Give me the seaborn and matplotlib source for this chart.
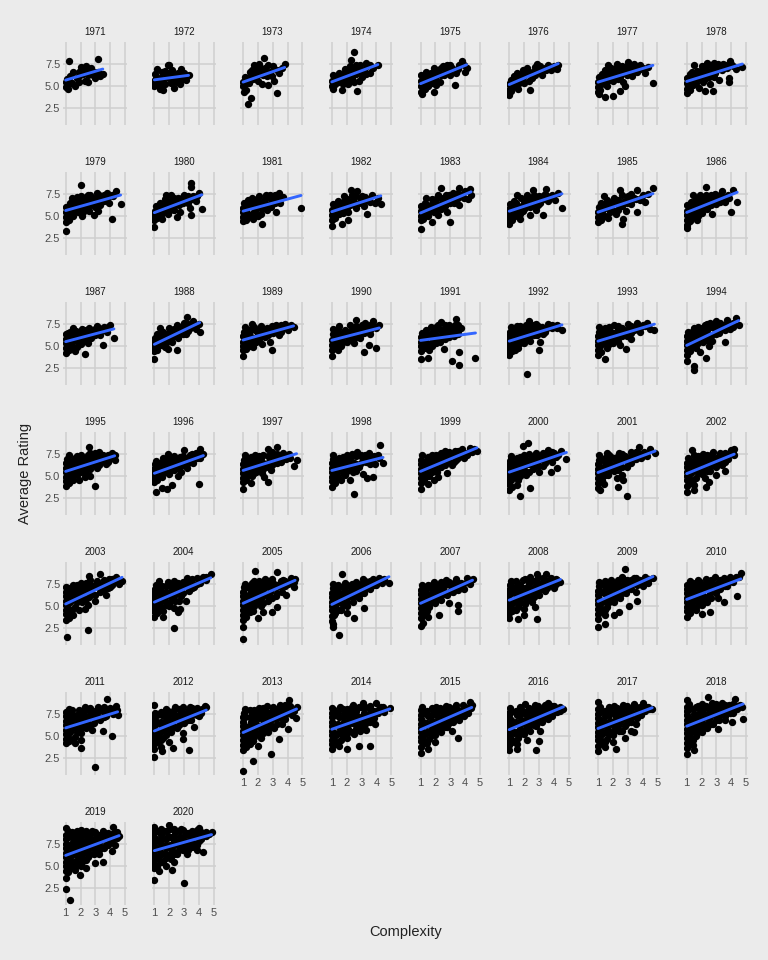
import matplotlib
matplotlib.use("Agg")
import matplotlib.pyplot as plt
import pandas as pd
import seaborn as sns

# average rating vs complexity, one panel per publication year
years = list(range(1971, 2021))

# scattered games (complexity, rating)
pts_1971 = [(1.0,5.4),(1.05,4.9),(1.15,4.7),(1.1,5.8),(1.3,6.1),(1.4,5.3),(1.6,5.0),(1.75,5.9),(1.9,6.6),(2.0,7.1),(2.1,6.9),(2.2,6.3),(2.3,5.6),(2.5,5.5),(2.6,6.8),(2.7,7.0),(2.85,6.2),(3.0,5.9),(3.2,6.6),(3.5,6.3),(1.25,7.75),(3.2,8.0),(1.5,6.6),(2.4,7.2)]
pts_1972 = [(1.0,5.0),(1.0,5.6),(1.05,6.3),(1.2,6.9),(1.3,5.2),(1.4,4.7),(1.6,4.6),(1.6,5.6),(1.8,6.2),(1.9,7.3),(2.0,7.4),(2.2,6.8),(2.1,5.3),(2.3,4.8),(2.5,5.4),(2.6,6.5),(2.8,6.9),(2.9,5.8),(3.1,5.7),(3.3,6.2),(2.4,6.0),(1.5,6.6)]
pts_1973 = [(1.0,5.0),(1.0,5.5),(1.05,4.3),(1.1,6.0),(1.3,3.0),(1.5,3.7),(1.2,4.6),(1.4,5.3),(1.5,6.3),(1.6,6.8),(1.8,7.0),(1.9,6.1),(2.0,5.6),(2.1,7.2),(2.2,6.6),(2.3,5.2),(2.4,8.1),(2.5,7.0),(2.6,6.1),(2.7,5.1),(2.8,6.6),(3.0,7.2),(3.1,5.6),(3.25,4.2),(3.4,6.4),(3.6,7.0),(3.8,7.5),(2.0,6.6),(1.7,5.8)]
pts_1974 = [(1.0,5.0),(1.0,5.6),(1.1,4.7),(1.1,6.2),(1.3,5.3),(1.5,6.5),(1.7,4.6),(1.8,5.8),(1.9,6.9),(2.0,6.2),(2.2,7.2),(2.3,7.9),(2.5,8.8),(2.4,6.5),(2.5,5.5),(2.7,4.4),(2.7,6.9),(2.9,7.3),(3.0,6.0),(3.2,6.8),(3.4,7.2),(3.6,6.5),(3.8,7.0),(4.1,7.3),(2.1,5.2),(1.4,5.9),(2.8,5.6)]
pts_1975 = [(1.0,4.3),(1.0,5.0),(1.0,5.6),(1.05,6.2),(1.1,4.1),(1.2,5.3),(1.3,6.0),(1.4,6.6),(1.5,5.0),(1.6,5.7),(1.7,6.4),(1.9,4.3),(1.9,7.0),(2.0,6.0),(2.2,6.8),(2.3,5.4),(2.5,7.2),(2.6,6.2),(2.8,7.4),(2.9,6.6),(3.1,7.0),(3.3,5.1),(3.4,6.4),(3.6,7.3),(3.8,7.8),(4.0,6.6),(4.1,7.0),(1.3,4.7),(2.1,5.6)]
pts_1976 = [(1.0,4.0),(1.0,4.6),(1.0,5.2),(1.1,5.7),(1.2,4.9),(1.3,6.1),(1.4,5.4),(1.5,6.5),(1.6,4.7),(1.8,5.8),(1.9,6.8),(2.1,6.3),(2.2,7.0),(2.4,4.6),(2.5,5.9),(2.6,6.6),(2.9,7.5),(3.0,6.9),(3.2,6.2),(3.4,7.0),(3.6,7.4),(3.8,6.8),(4.0,7.2),(4.3,7.3),(4.2,6.9),(2.0,5.3)]
pts_1977 = [(1.0,4.3),(1.0,4.9),(1.0,5.5),(1.05,6.0),(1.1,4.1),(1.2,5.2),(1.3,6.3),(1.4,5.7),(1.5,3.8),(1.5,6.8),(1.6,5.0),(1.8,6.2),(1.9,7.0),(2.0,3.9),(2.0,5.6),(2.2,6.6),(2.3,7.5),(2.5,4.4),(2.5,6.0),(2.6,7.2),(2.7,5.4),(2.9,6.7),(3.0,7.7),(3.2,7.0),(3.3,6.1),(3.4,7.5),(3.6,6.6),(3.8,7.3),(4.0,7.0),(4.2,6.5),(4.4,7.1),(4.7,5.3),(2.8,5.0),(1.7,7.3)]
pts_1978 = [(1.0,4.2),(1.0,4.7),(1.0,5.3),(1.05,5.9),(1.2,4.5),(1.2,6.3),(1.4,5.1),(1.5,7.4),(1.6,5.8),(1.7,6.7),(1.8,4.8),(1.9,6.2),(2.0,7.2),(2.1,5.5),(2.25,4.4),(2.3,6.8),(2.4,7.6),(2.5,6.0),(2.6,5.2),(2.75,4.4),(2.8,7.0),(2.9,6.4),(3.1,7.5),(3.2,5.7),(3.4,6.8),(3.6,7.3),(3.85,5.4),(3.85,5.9),(3.9,7.8),(4.1,7.2),(4.3,6.9),(4.75,7.1),(2.2,5.8)]
pts_1979 = [(1.0,3.3),(1.0,4.3),(1.0,4.9),(1.0,5.5),(1.05,6.0),(1.2,4.6),(1.2,5.3),(1.3,6.4),(1.5,5.0),(1.5,5.9),(1.6,6.8),(1.8,5.5),(1.9,6.3),(2.0,7.2),(2.05,8.5),(2.1,5.0),(2.3,6.0),(2.4,6.7),(2.5,7.4),(2.6,5.6),(2.8,6.4),(2.9,5.1),(3.0,7.0),(3.1,7.6),(3.3,6.2),(3.4,6.8),(3.6,7.3),(3.8,7.6),(3.9,6.5),(4.1,4.7),(4.2,7.2),(4.4,7.8),(4.7,6.3),(2.2,5.4),(1.4,7.0),(3.2,5.6)]
pts_1980 = [(1.0,3.8),(1.0,4.6),(1.0,5.1),(1.05,5.6),(1.1,6.1),(1.2,4.8),(1.3,5.4),(1.4,6.5),(1.5,4.7),(1.6,5.8),(1.7,6.9),(1.9,5.2),(2.0,6.2),(2.1,7.3),(2.3,5.7),(2.4,6.6),(2.6,7.0),(2.7,5.5),(2.9,6.4),(3.0,7.4),(3.2,6.8),(3.4,5.9),(3.45,8.7),(3.5,8.3),(3.5,5.1),(3.6,7.2),(3.8,6.7),(4.0,7.6),(4.2,5.8),(1.8,7.4),(2.5,4.9)]
pts_1981 = [(1.0,4.4),(1.0,4.9),(1.0,5.4),(1.0,5.9),(1.05,6.4),(1.2,4.6),(1.2,5.6),(1.3,6.8),(1.4,5.1),(1.5,6.1),(1.6,7.0),(1.7,4.7),(1.8,5.6),(1.9,6.6),(2.1,7.2),(2.2,5.2),(2.25,4.1),(2.3,6.2),(2.5,6.9),(2.6,5.7),(2.8,7.4),(2.9,6.3),(3.1,6.9),(3.2,5.5),(3.4,7.6),(3.5,6.4),(3.7,7.1),(4.9,5.9),(2.0,5.0)]
pts_1982 = [(1.0,3.9),(1.0,4.6),(1.0,5.1),(1.0,5.7),(1.05,6.3),(1.2,4.8),(1.3,5.5),(1.4,6.7),(1.6,5.9),(1.7,4.1),(1.8,7.2),(1.9,6.4),(2.1,4.6),(2.1,5.5),(2.3,7.9),(2.4,6.8),(2.6,5.9),(2.7,7.8),(2.8,6.5),(3.0,7.2),(3.2,6.1),(3.35,5.2),(3.5,6.9),(3.7,7.3),(3.9,6.5),(4.1,7.0),(4.3,6.3),(1.5,5.2),(2.2,6.2)]
pts_1983 = [(1.0,3.5),(1.0,4.5),(1.0,5.0),(1.0,5.6),(1.05,6.1),(1.15,4.7),(1.2,5.4),(1.3,6.5),(1.5,5.0),(1.6,5.9),(1.8,4.3),(1.8,6.9),(1.9,5.4),(2.0,6.4),(2.2,7.3),(2.4,8.1),(2.4,5.8),(2.5,6.8),(2.7,7.4),(2.8,5.5),(3.0,4.3),(3.0,6.5),(3.2,7.6),(3.4,6.9),(3.6,8.1),(3.6,6.2),(3.8,7.3),(4.0,7.8),(4.2,6.9),(4.3,8.0),(4.4,7.3),(2.2,5.1),(1.4,7.0)]
pts_1984 = [(1.0,4.1),(1.0,4.7),(1.0,5.2),(1.0,5.8),(1.05,6.3),(1.2,4.5),(1.2,5.5),(1.3,6.7),(1.4,5.0),(1.6,6.1),(1.7,4.7),(1.8,7.0),(1.9,5.6),(2.0,6.5),(2.2,7.3),(2.4,5.1),(2.4,6.0),(2.6,7.9),(2.6,6.8),(2.8,5.7),(3.0,7.2),(3.1,6.4),(3.3,5.1),(3.4,7.5),(3.5,8.0),(3.6,6.7),(3.8,7.1),(4.1,6.8),(4.3,7.6),(4.55,5.9),(1.5,7.3)]
pts_1985 = [(1.0,4.3),(1.0,4.9),(1.0,5.5),(1.05,6.0),(1.2,4.6),(1.2,6.5),(1.3,5.3),(1.5,5.9),(1.6,6.8),(1.7,4.8),(1.8,5.5),(1.9,6.4),(2.1,7.0),(2.2,5.2),(2.4,6.1),(2.5,7.9),(2.6,4.1),(2.7,4.7),(2.7,6.6),(2.9,5.6),(3.0,7.2),(3.2,6.3),(3.4,7.0),(3.6,5.5),(3.6,7.9),(3.8,6.8),(4.0,7.3),(4.2,6.6),(4.4,7.5),(4.7,8.1),(1.4,7.2)]
pts_1986 = [(1.0,3.6),(1.0,4.0),(1.0,4.6),(1.0,5.1),(1.0,5.6),(1.05,6.2),(1.2,4.4),(1.2,5.3),(1.3,6.6),(1.4,4.9),(1.5,5.8),(1.6,6.9),(1.7,4.5),(1.8,6.2),(1.9,7.3),(2.0,5.3),(2.1,6.6),(2.3,8.2),(2.3,7.4),(2.4,5.8),(2.6,6.9),(2.7,5.2),(2.9,7.5),(3.0,6.3),(3.2,7.1),(3.4,7.8),(3.6,6.6),(3.8,7.4),(3.95,5.5),(4.1,7.9),(4.4,6.6),(1.4,7.4)]
pts_1987 = [(1.0,4.2),(1.0,4.8),(1.0,5.3),(1.0,5.8),(1.05,6.3),(1.2,4.5),(1.2,5.6),(1.3,6.6),(1.4,5.0),(1.5,6.0),(1.6,4.4),(1.7,6.7),(1.8,5.4),(1.9,6.2),(2.1,6.9),(2.2,5.7),(2.3,4.1),(2.4,6.4),(2.6,7.0),(2.7,5.9),(2.9,6.6),(3.1,7.2),(3.3,6.2),(3.5,5.1),(3.6,7.1),(3.8,6.6),(4.0,7.3),(4.25,5.9),(1.5,7.0),(2.5,5.3)]
pts_1988 = [(1.0,3.5),(1.0,4.4),(1.0,4.9),(1.0,5.4),(1.05,5.9),(1.2,4.6),(1.2,6.3),(1.3,5.2),(1.5,5.7),(1.6,6.6),(1.7,4.9),(1.9,4.7),(1.9,6.1),(2.0,7.0),(2.2,5.5),(2.3,6.5),(2.5,4.5),(2.5,7.3),(2.6,5.9),(2.8,6.9),(3.0,7.6),(3.1,6.3),(3.2,8.2),(3.4,7.0),(3.6,7.8),(3.8,6.9),(4.05,6.6),(4.0,7.5),(1.4,7.0)]
pts_1989 = [(1.0,3.9),(1.0,4.5),(1.0,5.0),(1.0,5.5),(1.0,6.1),(1.05,6.6),(1.1,7.1),(1.2,4.7),(1.3,5.3),(1.4,6.4),(1.6,7.5),(1.5,5.8),(1.7,4.9),(1.8,6.8),(1.9,5.5),(2.0,6.3),(2.2,7.2),(2.3,5.2),(2.5,6.0),(2.6,7.0),(2.8,5.5),(2.95,4.5),(3.0,6.5),(3.2,7.3),(3.4,6.2),(3.6,7.0),(3.8,7.5),(4.0,6.8),(4.2,7.3),(4.4,7.1),(1.5,6.9),(2.4,6.6)]
pts_1990 = [(1.0,3.9),(1.0,4.6),(1.0,5.1),(1.0,5.7),(1.05,6.3),(1.1,6.9),(1.2,4.9),(1.3,5.5),(1.4,6.4),(1.5,7.2),(1.6,5.0),(1.7,6.0),(1.9,6.8),(2.0,5.4),(2.2,7.4),(2.3,6.2),(2.5,5.3),(2.6,7.9),(2.7,6.7),(2.9,5.9),(3.0,7.4),(3.2,4.3),(3.2,6.5),(3.4,7.1),(3.5,5.1),(3.6,6.3),(3.8,7.8),(4.0,4.8),(4.0,7.0),(4.2,7.4),(1.4,4.6),(2.4,6.0)]
pts_1991 = [(1.0,3.5),(1.0,4.4),(1.0,5.0),(1.0,5.5),(1.05,6.0),(1.1,6.5),(1.2,4.8),(1.3,5.6),(1.4,6.8),(1.5,3.6),(1.5,5.2),(1.6,6.2),(1.7,7.1),(1.8,5.0),(1.9,5.8),(2.0,6.7),(2.2,7.4),(2.3,5.5),(2.4,7.7),(2.5,6.3),(2.6,4.7),(2.8,7.1),(2.9,6.0),(3.1,3.3),(3.1,6.7),(3.3,7.4),(3.4,8.0),(3.5,6.3),(3.6,2.9),(3.6,4.3),(3.7,7.0),(4.7,3.7),(1.6,4.5),(2.2,6.1)]
pts_1992 = [(1.0,4.0),(1.0,4.6),(1.0,5.1),(1.0,5.6),(1.0,6.1),(1.05,6.6),(1.1,7.1),(1.2,4.4),(1.3,5.3),(1.4,6.3),(1.5,7.2),(1.6,4.8),(1.7,5.8),(1.8,6.8),(2.0,5.3),(2.1,7.4),(2.2,1.9),(2.2,6.2),(2.3,7.8),(2.4,5.6),(2.6,6.9),(2.8,7.5),(2.9,6.2),(3.0,4.5),(3.1,5.5),(3.2,7.1),(3.4,6.6),(3.6,7.5),(3.9,7.0),(4.2,7.4),(4.55,6.8),(1.4,4.5),(2.5,6.5)]
pts_1993 = [(1.0,4.0),(1.0,4.6),(1.0,5.1),(1.0,5.6),(1.0,6.1),(1.05,6.6),(1.1,7.1),(1.2,4.3),(1.3,5.3),(1.4,6.3),(1.5,3.5),(1.5,7.0),(1.6,4.8),(1.7,5.8),(1.8,6.7),(2.0,5.3),(2.1,7.3),(2.3,6.2),(2.5,5.1),(2.6,7.0),(2.8,6.4),(2.9,4.7),(3.0,7.5),(3.2,5.8),(3.4,6.8),(3.6,7.6),(3.8,6.6),(4.0,7.3),(4.3,7.6),(4.5,6.9),(4.8,6.8),(2.4,6.6)]
pts_1994 = [(1.0,3.3),(1.0,4.0),(1.0,4.6),(1.0,5.1),(1.0,5.6),(1.05,6.1),(1.1,6.6),(1.2,4.4),(1.3,5.3),(1.4,6.4),(1.5,2.3),(1.5,2.8),(1.5,7.0),(1.6,4.8),(1.7,5.8),(1.9,4.3),(1.9,6.7),(2.1,5.4),(2.2,7.3),(2.3,3.6),(2.4,6.3),(2.6,7.6),(2.7,5.6),(2.9,6.9),(3.0,7.8),(3.2,6.4),(3.4,7.3),(3.6,5.4),(3.7,7.9),(3.9,6.9),(4.1,7.6),(4.3,8.1),(4.5,7.4),(2.5,5.0)]
pts_1995 = [(1.0,3.9),(1.0,4.4),(1.0,4.9),(1.0,5.4),(1.0,5.9),(1.05,6.4),(1.1,6.9),(1.2,7.3),(1.2,4.2),(1.3,5.2),(1.4,6.2),(1.5,4.6),(1.6,7.0),(1.7,5.6),(1.8,6.6),(1.9,4.6),(2.0,7.4),(2.1,5.9),(2.2,6.9),(2.4,5.2),(2.5,7.3),(2.6,8.2),(2.6,6.3),(2.65,5.0),(2.8,6.9),(3.0,3.9),(3.0,7.6),(3.1,5.9),(3.3,6.6),(3.5,7.4),(3.7,6.3),(3.9,7.0),(4.1,7.6),(4.3,6.8),(4.3,7.3),(1.5,5.6),(2.3,4.9)]
pts_1996 = [(1.0,4.3),(1.0,4.8),(1.0,5.3),(1.0,5.8),(1.05,6.3),(1.1,3.2),(1.1,6.7),(1.2,4.5),(1.3,5.6),(1.4,6.5),(1.5,3.7),(1.5,4.9),(1.6,7.0),(1.7,5.9),(1.85,3.5),(1.9,7.5),(1.9,6.4),(2.0,5.2),(2.2,4.0),(2.2,6.9),(2.3,5.7),(2.5,6.4),(2.7,7.1),(2.8,5.5),(3.0,7.9),(3.0,6.6),(3.2,5.9),(3.4,7.3),(3.6,6.5),(3.8,7.6),(4.0,4.1),(4.05,8.0),(4.1,7.0),(4.3,7.5),(2.6,5.0)]
pts_1997 = [(1.0,3.5),(1.0,4.3),(1.0,4.8),(1.0,5.3),(1.0,5.8),(1.0,6.3),(1.05,6.8),(1.1,7.3),(1.2,4.5),(1.3,5.5),(1.4,6.5),(1.5,7.1),(1.6,5.0),(1.7,6.0),(1.8,7.4),(1.9,5.5),(2.0,6.6),(2.2,7.0),(2.3,5.3),(2.5,6.2),(2.7,4.3),(2.7,8.0),(2.8,6.8),(2.9,5.7),(3.1,7.4),(3.3,8.2),(3.3,6.5),(3.5,7.1),(3.7,7.6),(3.9,6.9),(4.1,7.5),(4.4,6.1),(4.6,6.8),(2.4,4.9),(1.5,4.2)]
pts_1998 = [(1.0,3.8),(1.0,4.4),(1.0,4.9),(1.0,5.4),(1.0,5.9),(1.0,6.4),(1.05,6.9),(1.1,7.3),(1.2,4.2),(1.3,5.3),(1.4,6.3),(1.5,7.0),(1.6,4.6),(1.7,5.8),(1.8,6.8),(1.9,5.1),(2.0,7.4),(2.1,6.1),(2.3,7.2),(2.4,5.4),(2.5,3.0),(2.5,6.5),(2.7,7.7),(2.8,6.0),(3.0,7.1),(3.1,5.2),(3.3,6.6),(3.4,4.8),(3.5,7.6),(3.7,6.8),(3.8,4.9),(3.9,6.3),(4.1,7.4),(4.25,8.5),(4.45,6.5),(2.2,4.6)]
pts_1999 = [(1.0,3.5),(1.0,4.2),(1.0,4.8),(1.0,5.3),(1.0,5.8),(1.0,6.3),(1.05,6.8),(1.1,7.3),(1.2,4.5),(1.3,5.5),(1.4,6.5),(1.5,7.1),(1.6,5.0),(1.7,6.0),(1.8,7.4),(1.9,4.6),(2.0,6.5),(2.1,5.5),(2.3,7.2),(2.4,6.0),(2.6,7.6),(2.7,6.7),(2.8,5.3),(3.0,7.3),(3.1,6.2),(3.3,7.8),(3.4,6.8),(3.6,7.4),(3.8,8.0),(3.9,7.0),(4.1,7.6),(4.3,8.1),(4.6,8.0),(4.8,7.8),(2.2,4.9),(1.5,4.1)]
pts_2000 = [(1.0,3.4),(1.0,4.1),(1.0,4.7),(1.0,5.2),(1.0,5.7),(1.0,6.2),(1.05,6.7),(1.1,7.2),(1.2,3.8),(1.3,5.0),(1.4,6.0),(1.5,7.0),(1.6,4.5),(1.7,2.8),(1.7,5.6),(1.8,6.6),(1.95,8.4),(2.0,7.3),(2.1,5.1),(2.25,8.7),(2.3,6.3),(2.4,3.7),(2.5,7.0),(2.6,5.8),(2.8,7.6),(2.9,6.6),(3.0,5.4),(3.2,7.3),(3.4,6.5),(3.6,7.9),(3.8,5.5),(3.8,7.1),(4.0,7.6),(4.2,5.9),(4.3,7.3),(4.5,7.8),(4.85,6.9),(1.5,4.0)]
pts_2001 = [(1.0,3.6),(1.0,4.2),(1.0,4.8),(1.0,5.3),(1.0,5.8),(1.0,6.3),(1.05,6.8),(1.1,7.3),(1.15,3.4),(1.3,4.6),(1.4,5.6),(1.5,6.6),(1.6,7.6),(1.7,5.1),(1.8,6.2),(1.9,7.1),(2.1,5.6),(2.2,6.7),(2.35,3.8),(2.4,7.6),(2.5,6.0),(2.6,5.1),(2.7,4.5),(2.8,7.2),(2.95,2.8),(3.0,6.4),(3.2,7.7),(3.4,6.9),(3.6,7.4),(3.75,8.3),(3.9,7.0),(4.1,7.7),(4.3,7.2),(4.5,8.0),(4.85,7.6),(1.4,4.1),(2.3,4.8)]
pts_2002 = [(1.0,3.2),(1.0,3.9),(1.0,4.5),(1.0,5.0),(1.0,5.5),(1.0,6.0),(1.05,6.5),(1.1,7.0),(1.2,4.2),(1.35,7.9),(1.3,5.3),(1.4,6.3),(1.5,3.4),(1.5,7.3),(1.6,4.8),(1.7,5.8),(1.8,6.8),(2.0,5.2),(2.1,7.5),(2.2,6.2),(2.3,3.8),(2.5,4.3),(2.5,7.0),(2.6,5.6),(2.8,7.7),(2.9,6.5),(3.0,5.1),(3.2,7.2),(3.4,6.2),(3.6,5.6),(3.6,7.6),(3.8,6.9),(4.0,7.9),(4.2,8.0),(4.2,7.3),(2.2,4.8),(1.5,4.0)]
pts_2003 = [(1.0,3.4),(1.0,4.1),(1.0,4.6),(1.0,5.1),(1.0,5.6),(1.0,6.1),(1.0,6.6),(1.05,7.1),(1.1,1.5),(1.2,3.7),(1.2,4.4),(1.3,5.4),(1.4,6.4),(1.5,7.3),(1.6,4.9),(1.7,5.9),(1.8,6.9),(1.9,4.5),(2.0,7.6),(2.1,5.4),(2.2,6.4),(2.4,7.2),(2.5,2.3),(2.5,5.1),(2.6,8.4),(2.6,6.0),(2.8,7.0),(3.0,5.6),(3.1,7.8),(3.3,8.6),(3.3,6.6),(3.5,7.4),(3.7,6.2),(3.9,8.0),(4.0,7.1),(4.2,7.7),(4.4,8.2),(4.6,7.5),(4.8,7.8),(2.3,4.7),(1.5,4.0)]
pts_2004 = [(1.0,3.8),(1.0,4.4),(1.0,4.9),(1.0,5.4),(1.0,5.9),(1.0,6.4),(1.05,6.9),(1.1,7.4),(1.2,4.2),(1.3,7.8),(1.3,5.2),(1.4,6.2),(1.5,7.2),(1.6,4.4),(1.7,5.6),(1.8,6.6),(1.9,7.7),(2.0,5.0),(2.1,6.1),(2.2,7.1),(2.35,2.5),(2.4,5.6),(2.5,6.6),(2.6,4.3),(2.6,7.6),(2.75,4.7),(2.8,6.1),(3.0,7.2),(3.1,5.6),(3.2,8.1),(3.3,6.7),(3.5,7.6),(3.7,7.1),(3.9,8.1),(4.1,7.6),(4.3,8.3),(4.5,7.9),(4.8,8.6),(1.6,3.8),(2.3,4.8)]
pts_2005 = [(1.0,1.3),(1.0,2.7),(1.0,3.4),(1.0,4.0),(1.0,4.6),(1.0,5.1),(1.0,5.6),(1.0,6.1),(1.0,6.6),(1.05,7.1),(1.1,7.5),(1.2,3.8),(1.3,4.8),(1.4,5.8),(1.5,6.8),(1.6,7.6),(1.7,4.4),(1.8,5.4),(1.8,8.9),(1.9,6.4),(2.0,7.4),(2.2,5.0),(2.3,6.0),(2.35,4.3),(2.4,7.0),(2.5,8.0),(2.7,5.6),(2.8,6.6),(2.95,4.3),(3.0,7.6),(3.2,6.1),(3.3,4.9),(3.3,8.8),(3.4,7.2),(3.6,6.6),(3.7,7.9),(3.9,6.2),(4.0,7.5),(4.2,8.1),(4.4,7.1),(4.5,8.0),(2.0,3.6)]
pts_2006 = [(1.0,3.3),(1.0,3.9),(1.0,4.5),(1.0,5.0),(1.0,5.5),(1.0,6.0),(1.0,6.5),(1.05,7.0),(1.1,2.7),(1.1,3.0),(1.1,7.5),(1.2,4.2),(1.3,5.2),(1.4,6.2),(1.5,1.7),(1.5,7.1),(1.6,4.6),(1.7,8.6),(1.7,5.6),(1.8,6.6),(1.9,7.6),(2.0,5.0),(2.1,6.1),(2.3,7.1),(2.4,5.5),(2.5,3.7),(2.5,6.5),(2.6,7.7),(2.8,5.9),(2.9,7.0),(3.1,8.0),(3.2,4.8),(3.2,6.4),(3.4,7.5),(3.6,6.9),(3.8,8.0),(4.0,7.3),(4.2,8.1),(4.4,7.6),(4.85,7.6),(2.0,4.2)]
pts_2007 = [(1.0,2.8),(1.0,3.6),(1.0,4.2),(1.0,4.8),(1.0,5.3),(1.0,5.8),(1.0,6.3),(1.05,6.8),(1.1,7.3),(1.15,3.1),(1.2,4.5),(1.3,5.5),(1.4,6.5),(1.5,7.4),(1.6,4.9),(1.7,5.9),(1.8,6.9),(1.9,7.7),(2.0,5.3),(2.1,6.3),(2.25,4.0),(2.3,7.3),(2.4,5.7),(2.5,6.8),(2.7,7.9),(2.8,6.2),(2.9,5.3),(3.0,7.3),(3.2,6.6),(3.4,8.0),(3.5,5.1),(3.5,4.4),(3.5,7.1),(3.7,7.6),(3.9,6.9),(4.1,8.1),(4.3,7.5),(4.5,8.0),(1.5,3.8)]
pts_2008 = [(1.0,3.6),(1.0,4.2),(1.0,4.8),(1.0,5.3),(1.0,5.8),(1.0,6.3),(1.0,6.8),(1.05,7.3),(1.1,7.8),(1.2,4.4),(1.3,5.4),(1.4,6.4),(1.5,7.4),(1.6,3.5),(1.6,4.9),(1.7,5.9),(1.8,6.9),(1.9,7.9),(2.0,4.7),(2.1,5.6),(2.2,6.5),(2.3,7.5),(2.4,8.3),(2.5,5.5),(2.6,6.5),(2.8,7.2),(2.9,3.5),(2.9,8.6),(3.0,6.2),(3.2,7.6),(3.4,6.7),(3.5,8.6),(3.6,7.3),(3.8,8.1),(4.0,7.0),(4.2,7.9),(4.45,7.7),(2.0,4.0),(2.7,4.9)]
pts_2009 = [(1.0,2.7),(1.0,3.5),(1.0,4.1),(1.0,4.7),(1.0,5.2),(1.0,5.7),(1.0,6.2),(1.0,6.7),(1.05,7.2),(1.1,7.7),(1.2,4.4),(1.3,5.4),(1.4,6.4),(1.5,3.0),(1.5,7.4),(1.6,4.9),(1.7,5.9),(1.8,6.9),(1.9,7.9),(2.05,4.0),(2.1,5.5),(2.2,6.5),(2.3,7.5),(2.4,4.3),(2.5,5.9),(2.6,7.0),(2.7,8.0),(2.8,9.2),(2.9,6.4),(3.0,7.5),(3.1,5.0),(3.2,6.9),(3.4,8.1),(3.6,5.6),(3.6,7.3),(3.8,7.9),(4.0,7.2),(4.2,8.2),(4.4,7.6),(4.7,8.1),(1.5,4.0)]
pts_2010 = [(1.0,3.8),(1.0,4.4),(1.0,4.9),(1.0,5.4),(1.0,5.9),(1.0,6.4),(1.0,6.9),(1.05,7.4),(1.2,4.2),(1.2,7.8),(1.3,5.2),(1.4,6.2),(1.5,7.2),(1.6,4.6),(1.7,5.6),(1.8,6.6),(1.9,7.7),(2.0,5.1),(2.1,6.1),(2.2,7.1),(2.3,8.0),(2.4,5.5),(2.55,4.3),(2.6,6.5),(2.7,7.5),(2.9,8.2),(3.0,6.9),(3.1,5.9),(3.3,7.6),(3.5,5.4),(3.5,8.1),(3.7,7.2),(3.9,8.3),(4.1,7.7),(4.3,8.2),(4.4,6.1),(4.65,8.7),(2.0,4.1)]
pts_2011 = [(1.0,4.2),(1.0,4.7),(1.0,5.2),(1.0,5.7),(1.0,6.2),(1.0,6.7),(1.0,7.2),(1.05,7.7),(1.2,4.4),(1.2,8.0),(1.3,5.4),(1.4,6.4),(1.5,7.4),(1.6,4.9),(1.7,5.9),(1.8,6.9),(1.9,7.9),(2.0,3.7),(2.0,5.3),(2.1,6.4),(2.2,7.4),(2.3,8.2),(2.4,5.9),(2.5,6.9),(2.7,7.8),(2.8,5.7),(2.9,6.5),(3.0,1.5),(3.0,7.4),(3.2,8.2),(3.3,6.8),(3.5,5.6),(3.5,7.8),(3.7,7.2),(3.8,9.1),(4.0,8.1),(4.1,5.0),(4.2,7.5),(4.4,8.4),(4.5,7.3),(1.6,4.2)]
pts_2012 = [(1.0,2.7),(1.0,3.5),(1.0,4.1),(1.0,4.6),(1.0,5.1),(1.0,5.6),(1.0,6.1),(1.0,6.6),(1.0,7.1),(1.0,8.5),(1.05,7.6),(1.2,4.3),(1.3,5.3),(1.4,6.3),(1.45,3.8),(1.5,7.3),(1.6,4.8),(1.7,5.8),(1.8,6.8),(1.9,7.8),(2.0,4.3),(2.1,5.4),(2.2,6.4),(2.25,3.6),(2.3,7.4),(2.4,8.2),(2.5,5.9),(2.6,6.9),(2.8,7.8),(2.9,5.3),(2.95,4.7),(3.0,6.5),(3.2,7.3),(3.35,3.4),(3.4,8.2),(3.5,6.8),(3.65,6.0),(3.8,7.7),(4.0,7.2),(4.2,8.0),(4.4,8.4),(1.5,3.3)]
pts_2013 = [(1.0,1.1),(1.0,3.4),(1.0,4.0),(1.0,4.6),(1.0,5.1),(1.0,5.6),(1.0,6.1),(1.0,6.6),(1.0,7.1),(1.05,7.6),(1.1,8.0),(1.2,3.8),(1.3,4.6),(1.4,5.6),(1.5,6.6),(1.6,7.6),(1.7,2.2),(1.7,4.4),(1.8,5.4),(1.9,6.4),(2.0,7.4),(2.1,8.1),(2.2,4.8),(2.3,5.8),(2.4,6.8),(2.5,7.8),(2.6,8.4),(2.7,5.4),(2.8,6.4),(2.85,3.0),(2.9,7.4),(3.0,8.3),(3.1,5.9),(3.2,6.9),(3.4,4.7),(3.4,7.8),(3.5,8.5),(3.6,6.4),(3.8,7.4),(4.0,8.2),(4.05,5.8),(4.1,9.0),(4.3,7.3),(4.55,7.0),(4.6,8.3),(2.0,3.9)]
pts_2014 = [(1.0,3.5),(1.0,4.1),(1.0,4.6),(1.0,5.1),(1.0,5.6),(1.0,6.1),(1.0,6.6),(1.0,7.1),(1.0,7.6),(1.0,8.1),(1.2,4.1),(1.3,5.1),(1.4,6.1),(1.5,7.1),(1.55,8.3),(1.6,4.6),(1.7,5.6),(1.8,6.6),(1.9,7.6),(2.0,3.5),(2.0,4.8),(2.1,5.8),(2.2,6.8),(2.3,7.8),(2.4,8.5),(2.5,5.2),(2.6,6.2),(2.7,7.2),(2.8,3.9),(2.8,8.2),(2.9,5.6),(3.0,6.6),(3.1,8.7),(3.2,7.6),(3.3,5.7),(3.4,6.8),(3.55,3.9),(3.6,8.0),(3.7,7.2),(3.9,6.4),(4.0,8.7),(4.1,7.6),(4.3,8.2),(4.5,7.7),(4.9,8.1),(1.5,3.9)]
pts_2015 = [(1.0,3.1),(1.0,3.8),(1.0,4.4),(1.0,4.9),(1.0,5.4),(1.0,5.9),(1.0,6.4),(1.0,6.9),(1.0,7.4),(1.05,7.9),(1.1,8.3),(1.2,4.2),(1.3,5.2),(1.4,6.2),(1.5,3.5),(1.5,7.2),(1.6,4.7),(1.7,5.7),(1.8,6.7),(1.9,7.7),(2.0,5.1),(2.1,6.1),(2.2,7.1),(2.3,8.1),(2.4,5.5),(2.5,6.5),(2.6,7.5),(2.7,8.4),(2.8,6.0),(2.9,7.0),(3.0,8.0),(3.1,5.6),(3.2,6.6),(3.3,7.6),(3.4,8.5),(3.55,4.8),(3.6,6.8),(3.7,7.8),(3.9,7.2),(4.0,8.3),(4.2,7.6),(4.3,8.8),(4.4,8.1),(2.0,4.3)]
pts_2016 = [(1.0,3.4),(1.0,4.0),(1.0,4.6),(1.0,5.1),(1.0,5.6),(1.0,6.1),(1.0,6.6),(1.0,7.1),(1.0,7.6),(1.05,8.1),(1.2,4.3),(1.3,5.3),(1.4,6.3),(1.5,3.5),(1.5,7.3),(1.6,4.8),(1.7,5.8),(1.8,6.8),(1.9,7.8),(2.0,5.2),(2.05,8.6),(2.1,6.2),(2.2,7.2),(2.3,8.1),(2.4,5.6),(2.5,6.6),(2.6,7.6),(2.7,8.5),(2.8,3.4),(2.8,6.1),(2.9,7.1),(3.0,4.4),(3.0,8.1),(3.1,5.6),(3.2,6.6),(3.3,7.6),(3.4,8.5),(3.6,8.7),(3.6,6.9),(3.7,7.7),(3.9,7.2),(4.0,8.4),(4.2,7.7),(4.4,8.2),(4.65,8.0),(2.2,4.5),(1.5,4.1)]
pts_2017 = [(1.0,3.3),(1.0,3.9),(1.0,4.5),(1.0,5.0),(1.0,5.5),(1.0,6.0),(1.0,6.5),(1.0,7.0),(1.0,7.5),(1.0,8.0),(1.0,8.8),(1.2,4.2),(1.3,5.2),(1.4,6.2),(1.5,3.8),(1.5,7.2),(1.6,4.7),(1.7,5.7),(1.8,6.7),(1.9,7.7),(2.0,5.1),(2.1,6.1),(2.2,3.5),(2.2,7.1),(2.3,8.1),(2.4,5.6),(2.5,6.6),(2.6,7.6),(2.7,8.5),(2.8,4.8),(2.8,6.1),(2.9,7.1),(3.0,8.1),(3.2,5.6),(3.2,6.6),(3.3,7.6),(3.4,5.5),(3.4,8.6),(3.6,7.0),(3.7,8.0),(3.9,7.4),(4.0,8.7),(4.2,7.8),(4.4,8.3),(4.65,8.0),(2.0,4.3)]
pts_2018 = [(1.0,3.0),(1.0,3.6),(1.0,4.2),(1.0,4.8),(1.0,5.3),(1.0,5.8),(1.0,6.3),(1.0,6.8),(1.0,7.3),(1.0,7.8),(1.0,8.3),(1.0,9.0),(1.2,4.5),(1.3,5.5),(1.4,6.5),(1.5,3.4),(1.5,7.5),(1.6,5.0),(1.6,8.3),(1.7,6.0),(1.8,7.0),(1.9,8.0),(2.0,5.4),(2.1,6.4),(2.2,7.4),(2.3,8.4),(2.45,9.4),(2.4,5.9),(2.5,6.9),(2.6,7.9),(2.7,8.7),(2.8,6.3),(2.9,7.3),(3.0,8.3),(3.1,5.8),(3.2,6.8),(3.3,7.8),(3.4,8.7),(3.6,7.2),(3.7,8.2),(3.9,7.6),(4.05,6.6),(4.1,8.6),(4.25,9.1),(4.4,8.0),(4.6,8.5),(4.8,6.9),(1.4,4.0)]
pts_2019 = [(1.0,2.4),(1.0,3.7),(1.0,4.4),(1.0,5.0),(1.0,5.5),(1.0,6.0),(1.0,6.5),(1.0,7.0),(1.0,7.5),(1.0,8.0),(1.0,8.5),(1.0,9.3),(1.3,1.2),(1.2,4.7),(1.3,5.7),(1.4,6.7),(1.5,7.7),(1.55,8.7),(1.6,4.6),(1.7,5.6),(1.8,6.6),(1.9,7.6),(1.95,4.0),(2.0,8.6),(2.1,5.5),(2.2,6.5),(2.3,7.5),(2.35,4.8),(2.4,8.5),(2.5,6.0),(2.6,7.0),(2.7,8.0),(2.8,8.9),(2.9,6.4),(3.0,5.3),(3.0,7.4),(3.1,8.4),(3.3,6.9),(3.4,7.9),(3.5,5.5),(3.5,8.9),(3.7,7.3),(3.8,8.3),(4.0,7.8),(4.1,6.7),(4.2,9.4),(4.3,7.4),(4.3,8.7),(4.6,8.4),(2.0,5.0)]
pts_2020 = [(1.0,3.4),(1.0,4.8),(1.0,5.3),(1.0,5.8),(1.0,6.3),(1.0,6.8),(1.0,7.3),(1.0,7.8),(1.0,8.3),(1.0,8.8),(1.0,9.4),(1.2,5.0),(1.3,6.0),(1.4,7.0),(1.5,8.0),(1.6,8.9),(1.6,5.4),(1.7,6.4),(1.8,7.4),(1.9,8.4),(2.0,9.6),(2.1,5.8),(2.2,4.6),(2.2,6.8),(2.3,7.8),(2.4,8.8),(2.5,6.3),(2.6,7.3),(2.7,8.3),(2.8,9.1),(2.9,6.8),(3.0,3.1),(3.0,7.8),(3.1,8.7),(3.2,6.3),(3.3,7.2),(3.4,8.2),(3.6,7.6),(3.7,8.6),(3.9,6.8),(4.0,9.3),(4.0,7.8),(4.25,6.6),(4.3,8.4),(4.5,8.8),(4.85,8.8),(1.3,4.4)]

# the crowded middle of each cloud: complexity -> ratings
core_1971 = {1.2: [5.2, 5.6], 1.9: [5.5, 6.1], 2.2: [6.7, 7.0], 2.5: [6.2], 2.9: [6.6], 3.3: [6.1]}
core_1972 = {1.1: [5.3, 5.9], 1.4: [5.9, 5.0], 1.7: [5.2, 6.7], 2.0: [5.9, 6.4], 2.3: [6.2, 5.6], 2.7: [6.0, 5.2], 3.0: [6.4]}
core_1973 = {1.15: [5.2, 5.7], 1.45: [5.8, 6.6], 1.75: [6.3, 7.3], 2.05: [6.3, 7.5], 2.35: [6.2, 6.9], 2.65: [6.5, 7.3], 2.95: [6.1], 3.3: [6.8]}
core_1974 = {1.15: [5.1, 5.6], 1.45: [5.4, 6.1], 1.75: [6.3, 5.2], 2.05: [6.6, 5.6], 2.35: [5.9, 7.0], 2.65: [6.3, 7.4], 3.0: [6.6], 3.3: [6.3, 7.6], 3.6: [7.3]}
core_1975 = {1.15: [4.6, 5.7], 1.45: [5.4, 6.2], 1.75: [5.3, 6.0], 2.05: [6.6, 5.1], 2.35: [6.2, 7.0], 2.7: [6.7, 7.0], 3.0: [7.3, 6.2], 3.5: [6.9], 3.9: [7.3]}
core_1976 = {1.1: [4.4, 5.2], 1.35: [5.0, 5.8], 1.65: [5.3, 6.2], 1.95: [6.0, 6.4], 2.3: [6.6, 5.6], 2.7: [6.2, 7.1], 3.1: [7.2, 6.6], 3.5: [6.8], 4.1: [7.0]}
core_1977 = {1.15: [4.6, 5.8], 1.45: [5.2, 6.2], 1.75: [5.7, 6.6], 2.05: [6.1, 6.9], 2.35: [5.8, 7.0], 2.65: [6.4, 6.8], 2.95: [7.2, 6.2], 3.25: [6.6, 7.4], 3.55: [7.0], 3.85: [6.9]}
core_1978 = {1.1: [5.0, 5.6], 1.35: [5.8, 6.6], 1.65: [6.2, 5.3], 1.95: [5.8, 6.7], 2.25: [6.4, 7.2], 2.55: [6.6, 7.3], 2.85: [6.0, 7.6], 3.15: [6.9, 7.2], 3.45: [7.5], 3.7: [7.0], 4.0: [7.5]}
core_1979 = {1.15: [5.0, 5.7], 1.45: [5.5, 6.3, 6.6], 1.75: [5.9, 6.6, 7.1], 2.05: [5.6, 6.0, 6.8], 2.35: [6.4, 7.1], 2.65: [6.2, 6.9, 7.3], 2.95: [6.0, 6.7], 3.25: [6.9, 7.3], 3.55: [6.7], 3.85: [7.1], 4.1: [7.4]}
core_1980 = {1.15: [5.2, 5.8], 1.45: [5.1, 6.0], 1.75: [5.5, 6.3], 2.05: [5.7, 6.7], 2.35: [6.1, 7.0], 2.65: [6.2, 6.7], 2.95: [6.9, 7.1], 3.25: [6.4, 7.2], 3.55: [6.9], 3.85: [7.2]}
core_1981 = {1.1: [5.2, 6.1], 1.35: [4.9, 6.1], 1.65: [5.3, 6.4], 1.95: [5.9, 6.9], 2.25: [5.8, 6.6], 2.55: [6.3, 7.3], 2.85: [6.0, 6.9], 3.15: [6.4, 7.3], 3.45: [7.0]}
core_1982 = {1.15: [5.1, 6.0], 1.45: [5.6, 6.2], 1.75: [5.3, 6.6], 2.05: [5.9, 6.9], 2.35: [6.3, 7.3], 2.65: [6.3, 7.2], 2.95: [6.6, 6.9], 3.25: [6.7, 7.1], 3.6: [6.6]}
core_1983 = {1.15: [5.0, 5.9], 1.45: [5.5, 6.2], 1.75: [5.6, 6.3], 2.05: [5.8, 6.9], 2.35: [6.3, 7.0], 2.65: [6.1, 7.0], 2.95: [6.9, 7.4], 3.25: [6.4, 7.2], 3.55: [7.0, 7.6], 3.9: [7.0]}
core_1984 = {1.15: [4.9, 6.0], 1.45: [5.6, 6.4], 1.75: [5.2, 6.0], 2.05: [5.9, 6.9], 2.35: [6.4, 7.0], 2.65: [6.2, 7.3], 2.95: [6.2, 6.8], 3.25: [6.9, 7.2], 3.55: [7.2], 3.9: [7.4]}
core_1985 = {1.15: [5.1, 5.8], 1.45: [5.0, 6.3], 1.75: [5.9, 6.2], 2.05: [5.6, 6.6], 2.35: [5.7, 6.8], 2.65: [6.1, 7.3], 2.95: [6.4, 6.9], 3.25: [6.7, 7.5], 3.55: [6.9], 3.9: [7.0]}
core_1986 = {1.15: [4.8, 5.8], 1.45: [5.4, 6.3], 1.75: [5.0, 5.6, 6.6], 2.05: [5.9, 6.9], 2.35: [6.1, 6.9], 2.65: [6.2, 7.3], 2.95: [6.8, 7.1], 3.25: [6.6, 7.4], 3.55: [7.1], 3.85: [7.0]}
core_1987 = {1.15: [5.0, 6.0, 6.5], 1.45: [5.4, 6.4], 1.75: [4.9, 5.9, 6.4], 2.05: [5.2, 6.4], 2.35: [5.6, 6.0, 6.8], 2.65: [6.3, 6.7], 2.95: [6.2, 6.9], 3.25: [6.6, 7.0], 3.55: [6.8], 3.85: [7.1]}
core_1988 = {1.15: [5.0, 5.6], 1.45: [5.1, 6.1], 1.75: [5.3, 6.3], 2.05: [5.8, 6.5], 2.35: [6.1, 6.9], 2.65: [6.5, 7.1], 2.95: [6.3, 7.1], 3.25: [6.7, 7.5], 3.55: [7.1]}
core_1989 = {1.15: [5.2, 5.9, 6.6], 1.45: [5.0, 6.1, 6.8], 1.75: [5.3, 5.9, 7.1], 2.05: [5.8, 6.8], 2.35: [6.1, 6.9], 2.65: [6.5, 6.2], 2.95: [6.9, 7.2], 3.25: [6.8], 3.55: [6.6, 7.3], 3.85: [7.1]}
core_1990 = {1.15: [5.2, 6.0, 6.5], 1.45: [5.3, 5.9, 6.9], 1.75: [5.5, 6.5], 2.05: [6.1, 6.6], 2.35: [5.7, 6.8], 2.65: [6.0, 7.2], 2.95: [6.5, 6.9], 3.25: [7.0, 7.6], 3.55: [6.8, 7.4], 3.85: [7.2]}
core_1991 = {1.15: [5.2, 5.8, 6.2], 1.45: [4.8, 6.1], 1.75: [5.5, 6.5], 2.05: [5.3, 6.1, 7.1], 2.35: [6.0, 6.8], 2.65: [5.8, 6.9, 7.3], 2.95: [6.4, 7.3], 3.25: [6.1, 7.0], 3.55: [6.7, 7.4]}
core_1992 = {1.15: [5.0, 5.8, 6.4], 1.45: [5.1, 5.8, 6.7], 1.75: [5.3, 6.3, 7.2], 2.05: [5.8, 6.7], 2.35: [6.0, 6.9, 7.3], 2.65: [6.2, 7.3], 2.95: [6.7, 7.2], 3.25: [6.3, 6.9], 3.55: [7.0], 3.85: [7.4], 4.2: [7.0]}
core_1993 = {1.15: [5.0, 5.8, 6.6], 1.45: [5.3, 6.0, 6.6], 1.75: [5.2, 6.2, 7.1], 2.05: [5.8, 6.5], 2.35: [5.6, 6.9, 7.2], 2.65: [6.1, 6.6], 2.95: [6.1, 6.8], 3.25: [6.4, 7.2], 3.55: [6.9, 7.2], 3.85: [7.0], 4.15: [7.2]}
core_1994 = {1.15: [4.8, 5.6, 6.3], 1.45: [5.0, 5.8, 6.7], 1.75: [5.3, 6.2, 7.1], 2.05: [5.9, 6.3, 7.0], 2.35: [5.7, 6.8, 7.5], 2.65: [6.1, 7.1], 2.95: [6.3, 7.3], 3.25: [6.9, 7.6], 3.55: [6.8, 7.4], 3.85: [7.3], 4.15: [7.1]}
core_1995 = {1.15: [4.7, 5.6, 6.2], 1.45: [5.0, 5.9, 6.7], 1.75: [5.1, 6.0, 7.2], 2.05: [5.4, 6.2, 6.9], 2.35: [5.7, 6.4, 7.0], 2.65: [5.8, 6.7, 7.6], 2.95: [6.2, 7.1], 3.25: [6.2, 7.1, 7.7], 3.55: [6.9], 3.85: [7.4, 6.6], 4.15: [7.0]}
core_1996 = {1.15: [4.9, 5.6, 6.1], 1.45: [5.2, 5.8, 6.3], 1.75: [5.4, 6.2, 6.8], 2.05: [5.7, 6.0, 7.0], 2.35: [5.9, 6.5, 7.2], 2.65: [5.8, 6.3, 6.9], 2.95: [6.2, 7.2], 3.25: [6.5, 7.0], 3.55: [6.9, 7.5], 3.85: [7.0], 4.15: [7.3]}
core_1997 = {1.15: [4.9, 5.6, 6.2, 6.9], 1.45: [5.1, 5.9, 6.8], 1.75: [5.3, 6.4, 7.0], 2.05: [5.7, 6.1, 7.2], 2.35: [5.8, 6.5, 7.3], 2.65: [6.0, 6.5, 7.2], 2.95: [6.2, 7.2, 7.7], 3.25: [6.8, 7.5], 3.55: [6.6, 7.3], 3.85: [7.2], 4.15: [7.0]}
core_1998 = {1.15: [4.7, 5.6, 6.1, 6.8], 1.45: [4.9, 5.8, 6.6], 1.75: [5.3, 6.3, 7.1], 2.05: [5.6, 6.5, 7.0], 2.35: [5.8, 6.6, 7.5], 2.65: [5.6, 6.3, 7.2], 2.95: [6.5, 7.4], 3.25: [7.0, 7.3], 3.55: [6.3, 7.2], 3.85: [7.2], 4.15: [7.0]}
core_1999 = {1.15: [5.0, 5.7, 6.5], 1.45: [5.0, 5.9, 6.8], 1.75: [5.4, 6.4, 7.0], 2.05: [5.9, 6.9, 7.3], 2.35: [6.4, 6.7, 7.6], 2.65: [6.2, 7.1, 7.8], 2.95: [6.7, 7.7], 3.25: [6.6, 7.3], 3.55: [7.0, 7.8], 3.85: [7.4], 4.15: [7.3], 4.45: [7.7]}
core_2000 = {1.15: [4.6, 5.4, 6.2, 6.9], 1.45: [5.1, 5.7, 6.4], 1.75: [5.0, 6.1, 7.1], 2.05: [5.6, 6.2, 6.9], 2.35: [5.5, 6.7, 7.5], 2.65: [6.3, 7.2], 2.95: [6.1, 7.1], 3.25: [6.1, 6.8, 7.6], 3.55: [6.9, 7.4], 3.85: [6.6, 7.7], 4.15: [7.1]}
core_2001 = {1.15: [4.5, 5.2, 6.0, 6.8], 1.45: [5.1, 6.1, 7.0], 1.75: [5.6, 6.6, 7.4], 2.05: [6.1, 7.0], 2.35: [5.7, 6.4, 7.2], 2.65: [6.0, 6.8, 7.5], 2.95: [6.0, 7.0], 3.25: [6.4, 7.2], 3.55: [6.9, 7.7], 3.85: [7.5], 4.15: [7.3]}
core_2002 = {1.15: [4.7, 5.5, 6.2], 1.45: [4.6, 5.7, 6.7], 1.75: [5.3, 6.3, 7.2], 2.05: [5.7, 6.6, 7.1], 2.35: [5.6, 6.7, 7.3], 2.65: [6.1, 6.8, 7.3], 2.95: [6.0, 7.0], 3.25: [6.6, 7.6], 3.55: [6.6, 7.3], 3.85: [7.5], 4.15: [7.6]}
core_2003 = {1.15: [4.8, 5.6, 6.3, 7.0], 1.45: [4.6, 5.8, 6.8], 1.75: [5.4, 6.4, 7.3], 2.05: [5.9, 6.8, 7.2], 2.35: [5.8, 6.8, 7.6], 2.65: [6.5, 7.3, 7.9], 2.95: [6.2, 7.3], 3.25: [7.1, 7.5], 3.55: [6.9, 7.9], 3.85: [7.0, 7.5], 4.15: [7.4, 8.0], 4.45: [7.8]}
core_2004 = {1.15: [4.7, 5.6, 6.6, 7.1], 1.45: [4.8, 5.7, 6.7], 1.75: [5.1, 6.1, 7.2], 2.05: [5.5, 6.6, 7.3], 2.35: [6.1, 7.0, 7.8], 2.65: [5.6, 6.9, 7.4], 2.95: [6.5, 7.7], 3.25: [7.1, 7.7], 3.55: [7.0, 8.0], 3.85: [7.5], 4.15: [8.0], 4.45: [8.3]}
core_2005 = {1.15: [4.4, 5.3, 6.2, 7.0], 1.45: [4.3, 5.2, 6.3, 7.2], 1.75: [5.0, 5.9, 7.0, 7.8], 2.05: [5.5, 6.0, 6.9, 7.8], 2.35: [5.3, 6.5, 7.5], 2.65: [6.1, 7.2, 7.8], 2.95: [5.9, 7.0, 8.0], 3.25: [6.5, 7.4], 3.55: [7.2, 7.8], 3.85: [7.2, 7.8], 4.15: [7.6], 4.45: [7.7]}
core_2006 = {1.15: [4.0, 4.9, 5.8, 6.6], 1.45: [4.6, 5.6, 6.6, 7.4], 1.75: [5.1, 6.1, 7.1], 2.05: [5.5, 6.6, 7.3], 2.35: [6.0, 6.5, 7.5], 2.65: [6.1, 7.1], 2.95: [6.4, 7.5], 3.25: [6.9, 7.8], 3.55: [7.3, 7.8], 3.85: [7.4], 4.15: [7.7], 4.5: [8.0]}
core_2007 = {1.15: [4.0, 4.9, 5.8, 6.6], 1.45: [4.4, 5.3, 6.1, 7.0], 1.75: [5.4, 6.4, 7.3], 2.05: [5.8, 6.8, 7.4], 2.35: [6.2, 6.9, 7.7], 2.65: [6.3, 7.3], 2.95: [6.6, 7.7], 3.25: [7.1, 7.6], 3.55: [6.8, 7.6], 3.85: [7.5], 4.15: [7.7], 4.4: [7.9]}
core_2008 = {1.15: [4.9, 5.6, 6.4, 7.1], 1.45: [4.6, 5.7, 6.9, 7.8], 1.75: [5.3, 6.4, 7.4], 2.05: [5.2, 6.1, 7.0, 8.0], 2.35: [5.9, 6.9, 7.8], 2.65: [6.0, 7.0, 7.8], 2.95: [6.7, 7.6, 8.2], 3.25: [6.9, 8.1], 3.55: [7.0, 7.8], 3.85: [7.6], 4.15: [7.5, 8.0]}
core_2009 = {1.15: [4.9, 5.7, 6.6, 7.3], 1.45: [4.6, 5.6, 6.8, 7.8], 1.75: [5.4, 6.4, 7.4], 2.05: [5.9, 7.0, 7.6], 2.35: [6.0, 7.0, 7.9], 2.65: [6.4, 7.4, 8.2], 2.95: [6.9, 7.9], 3.25: [7.4, 7.9], 3.55: [6.6, 7.7, 8.1], 3.85: [7.5], 4.15: [7.8], 4.45: [8.0]}
core_2010 = {1.15: [4.7, 5.6, 6.5, 7.2], 1.45: [4.9, 5.7, 6.7, 7.6], 1.75: [5.1, 6.1, 7.1, 7.9], 2.05: [5.6, 6.6, 7.4], 2.35: [6.0, 7.0, 7.7], 2.65: [5.9, 7.0, 7.9], 2.95: [6.5, 7.5], 3.25: [6.9, 7.9], 3.55: [7.2, 7.7], 3.85: [7.7], 4.15: [8.0], 4.5: [8.2]}
core_2011 = {1.15: [4.9, 5.8, 6.6, 7.4], 1.45: [4.5, 5.9, 6.8, 7.9], 1.75: [5.4, 6.4, 7.4], 2.05: [4.6, 5.9, 6.9, 7.8], 2.35: [6.4, 7.1, 7.9], 2.65: [6.2, 7.3, 8.1], 2.95: [7.0, 7.8], 3.25: [7.0, 7.8], 3.55: [7.1, 8.2], 3.85: [7.8], 4.15: [7.9], 4.45: [7.9]}
core_2012 = {1.15: [4.8, 5.6, 6.6, 7.4], 1.45: [4.6, 5.6, 6.6, 7.7], 1.75: [5.1, 6.2, 7.2, 8.0], 2.05: [5.7, 6.8, 7.6], 2.35: [6.0, 6.9, 7.9], 2.65: [6.2, 7.3, 8.0], 2.95: [6.9, 7.6, 8.2], 3.25: [6.8, 7.8], 3.55: [7.4, 8.1], 3.85: [7.3, 8.1], 4.15: [7.6], 4.5: [8.2]}
core_2013 = {1.15: [4.3, 5.1, 6.1, 7.1], 1.45: [4.1, 5.1, 6.1, 7.1, 7.9], 1.75: [4.9, 5.9, 6.9, 7.9], 2.05: [5.2, 6.0, 7.0, 7.8], 2.35: [5.3, 6.3, 7.3, 8.1], 2.65: [5.9, 6.9, 7.6], 2.95: [6.0, 6.9, 7.8], 3.25: [6.4, 7.3, 8.0], 3.55: [7.0, 7.9], 3.85: [6.9, 8.0, 8.5], 4.15: [7.6, 8.4], 4.4: [7.8]}
core_2014 = {1.15: [4.4, 5.3, 6.3, 7.3, 7.9], 1.45: [4.3, 5.3, 6.3, 7.6], 1.75: [5.0, 6.1, 7.1, 8.0], 2.05: [5.3, 6.2, 7.2, 8.0], 2.35: [5.5, 6.5, 7.4, 8.2], 2.65: [5.8, 6.8, 7.8], 2.95: [6.1, 7.1, 8.2], 3.25: [6.3, 7.1, 8.2], 3.55: [6.6, 7.6, 8.4], 3.85: [7.0, 7.8], 4.15: [8.0], 4.45: [8.2]}
core_2015 = {1.15: [4.6, 5.5, 6.6, 7.6], 1.45: [4.2, 5.4, 6.5, 7.8], 1.75: [5.1, 6.2, 7.3, 8.1], 2.05: [5.7, 6.6, 7.6, 8.2], 2.35: [6.0, 7.0, 7.8], 2.65: [6.0, 6.9, 7.9], 2.95: [6.5, 7.5, 8.3], 3.25: [7.0, 8.1], 3.55: [7.2, 7.9], 3.85: [7.7, 8.5], 4.15: [8.1], 4.45: [8.5]}
core_2016 = {1.15: [4.7, 5.7, 6.8, 7.7], 1.45: [4.4, 5.5, 6.6, 7.8], 1.75: [5.2, 6.3, 7.3, 8.2], 2.05: [5.7, 6.7, 7.6], 2.35: [6.1, 7.0, 7.9], 2.65: [6.2, 7.0, 8.0], 2.95: [6.6, 7.6, 8.4], 3.25: [7.0, 8.0], 3.55: [7.3, 8.2], 3.85: [7.7, 8.4], 4.15: [8.0], 4.45: [7.8]}
core_2017 = {1.15: [4.7, 5.7, 6.8, 7.7, 8.3], 1.45: [4.3, 5.5, 6.6, 7.8], 1.75: [5.2, 6.3, 7.3, 8.3], 2.05: [5.6, 6.6, 7.6, 8.4], 2.35: [6.1, 7.0, 7.8], 2.65: [5.6, 6.9, 8.0], 2.95: [6.5, 7.6, 8.4], 3.25: [7.0, 8.1], 3.55: [6.4, 7.6, 8.3], 3.85: [7.9, 8.3], 4.15: [8.2], 4.45: [8.0]}
core_2018 = {1.15: [4.0, 5.0, 6.0, 7.0, 8.0, 8.6], 1.45: [4.5, 5.7, 6.9, 8.0], 1.75: [5.4, 6.5, 7.5, 8.4], 2.05: [5.9, 6.9, 7.8, 8.6], 2.35: [6.3, 7.3, 8.1], 2.65: [6.4, 7.4, 8.3], 2.95: [6.8, 7.8, 8.6], 3.25: [7.3, 8.3], 3.55: [6.8, 7.7, 8.5], 3.85: [7.9, 8.5], 4.15: [7.6, 8.3], 4.45: [8.4], 4.7: [8.3]}
core_2019 = {1.15: [4.3, 5.3, 6.3, 7.3, 8.2, 8.9], 1.45: [5.1, 6.2, 7.2, 8.2, 8.8], 1.75: [5.1, 6.2, 7.1, 8.1, 8.9], 2.05: [6.0, 7.0, 8.0, 9.0], 2.35: [5.7, 6.7, 7.8, 8.9], 2.65: [6.4, 7.5, 8.5], 2.95: [6.8, 7.9, 8.8], 3.25: [6.4, 7.4, 8.5], 3.55: [7.0, 8.1, 8.7], 3.85: [7.4, 8.7], 4.15: [7.9, 8.6], 4.45: [8.1, 8.8]}
core_2020 = {1.15: [4.9, 5.9, 6.9, 7.9, 8.9], 1.45: [5.4, 6.5, 7.5, 8.5, 9.2], 1.75: [5.0, 5.9, 7.0, 8.0, 8.9], 2.05: [6.3, 7.3, 8.3, 9.1], 2.35: [5.4, 6.4, 7.4, 8.4, 9.1], 2.65: [6.8, 7.8, 8.9], 2.95: [7.3, 8.3, 9.0], 3.25: [6.8, 7.7, 8.7], 3.55: [7.1, 8.1, 8.9], 3.85: [7.3, 8.4, 9.0], 4.15: [8.0, 8.8], 4.45: [8.4], 4.7: [8.6]}

panels = [pts_1971, pts_1972, pts_1973, pts_1974, pts_1975, pts_1976, pts_1977, pts_1978,
          pts_1979, pts_1980, pts_1981, pts_1982, pts_1983, pts_1984, pts_1985, pts_1986,
          pts_1987, pts_1988, pts_1989, pts_1990, pts_1991, pts_1992, pts_1993, pts_1994,
          pts_1995, pts_1996, pts_1997, pts_1998, pts_1999, pts_2000, pts_2001, pts_2002,
          pts_2003, pts_2004, pts_2005, pts_2006, pts_2007, pts_2008, pts_2009, pts_2010,
          pts_2011, pts_2012, pts_2013, pts_2014, pts_2015, pts_2016, pts_2017, pts_2018,
          pts_2019, pts_2020]
cores = [core_1971, core_1972, core_1973, core_1974, core_1975, core_1976, core_1977, core_1978,
         core_1979, core_1980, core_1981, core_1982, core_1983, core_1984, core_1985, core_1986,
         core_1987, core_1988, core_1989, core_1990, core_1991, core_1992, core_1993, core_1994,
         core_1995, core_1996, core_1997, core_1998, core_1999, core_2000, core_2001, core_2002,
         core_2003, core_2004, core_2005, core_2006, core_2007, core_2008, core_2009, core_2010,
         core_2011, core_2012, core_2013, core_2014, core_2015, core_2016, core_2017, core_2018,
         core_2019, core_2020]

x_ticks = [1, 2, 3, 4, 5]
y_ticks = [2.5, 5.0, 7.5]

rows = []
for yr, pts, core in zip(years, panels, cores):
    for cx, rt in pts:
        rows.append((yr, cx, rt))
    for cx, ratings in core.items():
        for rt in ratings:
            rows.append((yr, cx, rt))
df = pd.DataFrame(rows, columns=["year", "complexity", "rating"])

bg = "#EBEBEB"
sns.set_theme(style="whitegrid", rc={
    "figure.facecolor": bg,
    "axes.facecolor": bg,
    "axes.edgecolor": bg,
    "grid.color": "#CFCFCF",
    "grid.linewidth": 1.1,
    "xtick.color": "#4D4D4D",
    "ytick.color": "#4D4D4D",
    "xtick.labelsize": 8,
    "ytick.labelsize": 8,
    "xtick.major.size": 0,
    "ytick.major.size": 0,
})
plt.rcParams["font.family"] = ["Liberation Sans", "DejaVu Sans"]

g = sns.lmplot(data=df, x="complexity", y="rating", col="year", col_wrap=8,
               ci=None, height=1.2, aspect=0.8,
               scatter_kws=dict(color="black", s=28, alpha=1, linewidths=0),
               line_kws=dict(color="#3366FF", lw=2.1))

fig = g.figure
fig.set_size_inches(7.68, 9.6)
fig.patch.set_facecolor(bg)
fig.subplots_adjust(left=0.082, right=0.974, top=0.956, bottom=0.057,
                    wspace=0.386, hspace=0.566)

g.set_titles("{col_name}", size=7, color="#1A1A1A", pad=5)
g.set(xlim=(0.82, 5.13), ylim=(0.6, 9.9), xticks=x_ticks, yticks=y_ticks)
g.set_axis_labels("", "")
for ax in g.axes.flat:
    for s in ax.spines.values():
        s.set_visible(False)
    ax.tick_params(pad=2)

fig.text(0.528, 0.029, "Complexity", ha="center", va="center", fontsize=10.5, color="#222222")
fig.text(0.033, 0.507, "Average Rating", ha="center", va="center", rotation=90,
         fontsize=10.5, color="#222222")

fig.savefig("out.png", dpi=100, facecolor=bg)
